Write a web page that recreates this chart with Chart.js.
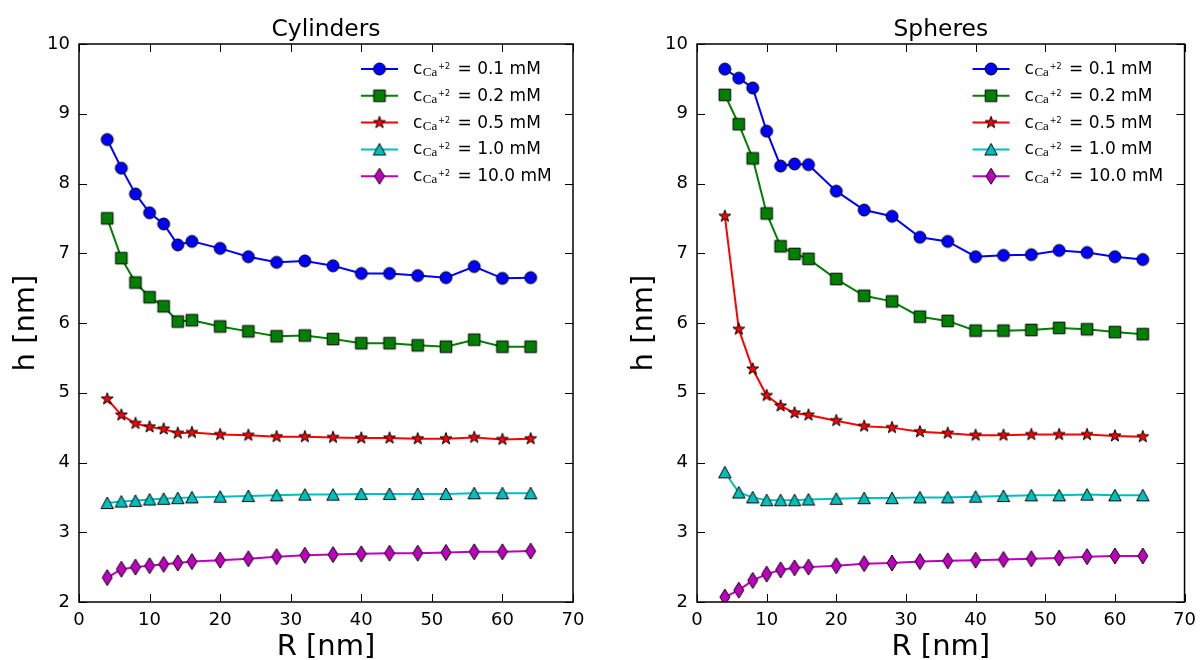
<!DOCTYPE html>
<html lang="en">
<head>
<meta charset="UTF-8">
<title>h vs R - Cylinders / Spheres</title>
<script src="https://cdn.jsdelivr.net/npm/chart.js"></script>
<style>
  html, body { margin: 0; padding: 0; background: #fff; }
  #wrap { position: relative; width: 1204px; height: 660px; }
  .panel { position: absolute; top: 0; width: 602px; height: 660px; }
</style>
</head>
<body>
<div id="wrap">
  <div class="panel" style="left:0"><canvas id="cyl" width="602" height="660"></canvas></div>
  <div class="panel" style="left:602px"><canvas id="sph" width="602" height="660"></canvas></div>
</div>

<script>
// R values (nm), shared by every series
const radii = [4, 6, 8, 10, 12, 14, 16, 20, 24, 28, 32, 36, 40, 44, 48, 52, 56, 60, 64];
const concentrations = ['0.1', '0.2', '0.5', '1.0', '10.0'];

// Cylinders, h [nm]
const cyl01 = [8.63, 8.22, 7.85, 7.58, 7.42, 7.12, 7.17, 7.07, 6.95, 6.87, 6.89, 6.82, 6.71, 6.71, 6.68, 6.65, 6.81, 6.64, 6.65];
const cyl02 = [7.50, 6.93, 6.58, 6.37, 6.24, 6.02, 6.04, 5.95, 5.88, 5.81, 5.82, 5.77, 5.71, 5.71, 5.68, 5.66, 5.76, 5.66, 5.66];
const cyl05 = [4.91, 4.68, 4.56, 4.51, 4.48, 4.42, 4.43, 4.40, 4.39, 4.37, 4.37, 4.36, 4.35, 4.35, 4.34, 4.34, 4.36, 4.33, 4.34];
const cyl10 = [3.42, 3.44, 3.45, 3.47, 3.48, 3.49, 3.50, 3.51, 3.52, 3.53, 3.54, 3.54, 3.55, 3.55, 3.55, 3.55, 3.56, 3.56, 3.56];
const cyl100 = [2.35, 2.47, 2.50, 2.52, 2.54, 2.56, 2.58, 2.60, 2.62, 2.65, 2.67, 2.68, 2.69, 2.70, 2.70, 2.71, 2.72, 2.72, 2.73];

// Spheres, h [nm]
const sph01 = [9.64, 9.51, 9.37, 8.75, 8.25, 8.28, 8.27, 7.89, 7.62, 7.53, 7.23, 7.17, 6.95, 6.97, 6.98, 7.04, 7.01, 6.95, 6.91];
const sph02 = [9.27, 8.85, 8.36, 7.57, 7.10, 6.99, 6.92, 6.63, 6.39, 6.31, 6.09, 6.03, 5.89, 5.89, 5.90, 5.93, 5.91, 5.87, 5.84];
const sph05 = [7.53, 5.91, 5.34, 4.96, 4.81, 4.71, 4.68, 4.60, 4.52, 4.50, 4.44, 4.42, 4.39, 4.39, 4.40, 4.40, 4.40, 4.38, 4.37];
const sph10 = [3.86, 3.57, 3.50, 3.46, 3.46, 3.46, 3.47, 3.48, 3.49, 3.49, 3.50, 3.50, 3.51, 3.52, 3.53, 3.53, 3.54, 3.53, 3.53];
const sph100 = [2.07, 2.17, 2.31, 2.40, 2.46, 2.49, 2.50, 2.52, 2.55, 2.56, 2.58, 2.59, 2.60, 2.61, 2.62, 2.63, 2.65, 2.66, 2.66];

const xTicks = [0, 10, 20, 30, 40, 50, 60, 70];
const yTicks = [2, 3, 4, 5, 6, 7, 8, 9, 10];

const colors = ['#0000ff', '#008000', '#ff0000', '#00bfbf', '#bf00bf'];
const shapes = ['circle', 'square', 'star', 'triangle', 'diamond'];

// matplotlib-like markers, drawn once on small canvases
function marker(shape, color) {
  const c = document.createElement('canvas');
  c.width = 20; c.height = 20;
  const g = c.getContext('2d');
  g.translate(10, 10);
  g.beginPath();
  if (shape === 'circle') {
    g.arc(0, 0, 6, 0, Math.PI * 2);
  } else if (shape === 'square') {
    g.rect(-5.8, -5.8, 11.6, 11.6);
  } else if (shape === 'star') {
    for (let i = 0; i < 10; i++) {
      const r = i % 2 ? 2.5 : 6.3;
      const a = -Math.PI / 2 + i * Math.PI / 5;
      g.lineTo(r * Math.cos(a), r * Math.sin(a));
    }
    g.closePath();
  } else if (shape === 'triangle') {
    g.moveTo(0, -6); g.lineTo(6.2, 5.6); g.lineTo(-6.2, 5.6); g.closePath();
  } else {
    g.moveTo(0, -8); g.lineTo(5, 0); g.lineTo(0, 8); g.lineTo(-5, 0); g.closePath();
  }
  g.fillStyle = color;
  g.fill();
  g.lineWidth = 1;
  g.strokeStyle = '#000';
  g.stroke();
  return c;
}
const markers = shapes.map((s, i) => marker(s, colors[i]));

const FONT = '"DejaVu Sans", sans-serif';

// box, inward ticks, title, axis labels and legend
const decorations = {
  id: 'decorations',
  afterDraw(chart, args, opts) {
    const { ctx, chartArea: a, scales: { x, y } } = chart;
    ctx.save();
    ctx.strokeStyle = '#000';
    ctx.lineWidth = 1;
    ctx.beginPath();
    x.ticks.forEach(t => {
      const px = Math.round(x.getPixelForValue(t.value)) + 0.5;
      ctx.moveTo(px, a.bottom); ctx.lineTo(px, a.bottom - 8);
      ctx.moveTo(px, a.top); ctx.lineTo(px, a.top + 8);
    });
    y.ticks.forEach(t => {
      const py = Math.round(y.getPixelForValue(t.value)) + 0.5;
      ctx.moveTo(a.left, py); ctx.lineTo(a.left + 8, py);
      ctx.moveTo(a.right, py); ctx.lineTo(a.right - 8, py);
    });
    ctx.stroke();
    ctx.lineWidth = 1.5;
    ctx.strokeRect(a.left, a.top, a.right - a.left, a.bottom - a.top);

    ctx.fillStyle = '#000';
    ctx.textAlign = 'center';
    ctx.textBaseline = 'alphabetic';
    ctx.font = '23.4px ' + FONT;
    ctx.fillText(opts.title, (a.left + a.right) / 2, 36);
    ctx.font = '29px ' + FONT;
    ctx.fillText('R [nm]', (a.left + a.right) / 2, 655);
    ctx.save();
    ctx.translate(a.left - 45, (a.top + a.bottom) / 2);
    ctx.rotate(-Math.PI / 2);
    ctx.fillText('h [nm]', 0, 0);
    ctx.restore();

    // legend
    ctx.textAlign = 'left';
    concentrations.forEach((conc, i) => {
      const ry = a.top + 25 + i * 26.8;
      ctx.strokeStyle = colors[i];
      ctx.lineWidth = 2;
      ctx.beginPath();
      ctx.moveTo(a.right - 212, ry);
      ctx.lineTo(a.right - 175, ry);
      ctx.stroke();
      ctx.drawImage(markers[i], a.right - 193.5 - 10, ry - 10);

      let tx = a.right - 160;
      const base = ry + 5;
      ctx.fillStyle = '#000';
      ctx.font = '17px ' + FONT;
      ctx.fillText('c', tx, base);
      tx += ctx.measureText('c').width + 0.5;
      ctx.font = '13px "Liberation Serif", serif';
      ctx.fillText('Ca', tx, base + 2);
      tx += ctx.measureText('Ca').width + 1;
      ctx.font = '8px ' + FONT;
      ctx.fillText('+2', tx, base - 5);
      tx += ctx.measureText('+2').width + 2;
      ctx.font = '17px ' + FONT;
      ctx.fillText(' = ' + conc + ' mM', tx, base);
    });
    ctx.restore();
  }
};

function buildChart(id, title, series, leftWidth, padRight) {
  const datasets = series.map((vals, i) => ({
    label: 'c_Ca+2 = ' + concentrations[i] + ' mM',
    data: radii.map((r, k) => ({ x: r, y: vals[k] })),
    borderColor: colors[i],
    borderWidth: 2,
    backgroundColor: colors[i],
    pointStyle: markers[i],
    pointRadius: 6,
    tension: 0,
    clip: 0,
    order: series.length - i
  }));

  return new Chart(document.getElementById(id), {
    type: 'line',
    data: { datasets },
    plugins: [decorations],
    options: {
      responsive: false,
      devicePixelRatio: 1,
      animation: false,
      layout: { padding: { left: 0, top: 44, right: padRight, bottom: 0 } },
      plugins: {
        legend: { display: false },
        tooltip: { enabled: false },
        decorations: { title }
      },
      scales: {
        x: {
          type: 'linear',
          min: 0, max: 70,
          afterBuildTicks: s => { s.ticks = xTicks.map(v => ({ value: v })); },
          afterFit: s => { s.height = 58; },
          grid: { display: false, drawTicks: false },
          border: { display: false },
          ticks: { color: '#000', font: { family: 'DejaVu Sans', size: 18 }, padding: 8, autoSkip: false, maxRotation: 0 }
        },
        y: {
          type: 'linear',
          min: 2, max: 10,
          afterBuildTicks: s => { s.ticks = yTicks.map(v => ({ value: v })); },
          afterFit: s => { s.width = leftWidth; },
          grid: { display: false, drawTicks: false },
          border: { display: false },
          ticks: { color: '#000', font: { family: 'DejaVu Sans', size: 18 }, padding: 9, autoSkip: false }
        }
      }
    }
  });
}

buildChart('cyl', 'Cylinders', [cyl01, cyl02, cyl05, cyl10, cyl100], 79, 29);
buildChart('sph', 'Spheres', [sph01, sph02, sph05, sph10, sph100], 95, 10);
</script>
</body>
</html>
